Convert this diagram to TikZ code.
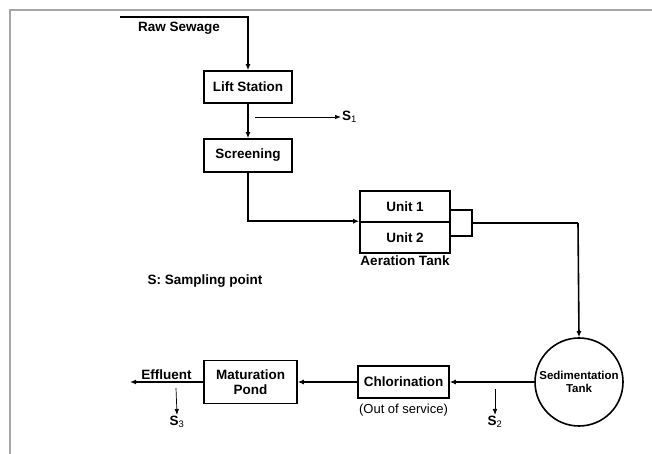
\documentclass[tikz,border=0pt]{standalone}
\usepackage{fontspec}
\setmainfont{Liberation Sans}
\usepackage{tikz}
\usetikzlibrary{positioning,arrows.meta}

\tikzset{
    unitbox/.style={draw, line width=1.6pt, inner sep=0pt, align=center,
        font=\fontsize{13.5}{15}\selectfont\bfseries},
    flow/.style={line width=1.6pt, -{Latex[length=6pt,width=5pt]}},
    probe/.style={line width=0.7pt, -{Latex[length=6pt,width=4.5pt]}},
    tag/.style={inner sep=1pt, font=\fontsize{13.5}{15}\selectfont\bfseries}
}

\begin{document}
\begin{tikzpicture}[x=1pt, y=1pt]
    \useasboundingbox (0,0) rectangle (652,454);

    % Page frame
    \draw[gray!70, line width=1.3pt] (10,0) -- (10,444) -- (652,444);

    % Treatment units
    \coordinate (raw) at (120,437);
    \node[unitbox, minimum width=88pt, minimum height=32pt] (lift) at (248,367) {Lift Station};
    \node[unitbox, minimum width=88pt, minimum height=33pt] (screen) at (248,298.5) {Screening};
    \node[unitbox, minimum width=90pt, minimum height=31pt] (unit1) at (405,247.5) {Unit 1};
    \node[unitbox, minimum width=90pt, minimum height=31pt] (unit2) at (405,216.5) {Unit 2};
    \node[unitbox, minimum width=22pt, minimum height=26pt] (weir) at (461,231) {};
    \node[draw, circle, line width=1.6pt, minimum size=88pt, inner sep=0pt, align=center,
        font=\fontsize{11.5}{13}\selectfont\bfseries] (sed) at (579,72) {Sedimentation\\Tank};
    \node[unitbox, minimum width=91pt, minimum height=32pt] (chlor) at (403.5,72) {Chlorination};
    \node[unitbox, minimum width=93pt, minimum height=43pt] (pond) at (250.5,72) {Maturation\\Pond};
    \coordinate (out) at (130,72);

    % Labels
    \node[tag] (rawlbl) at (179,426) {Raw Sewage};
    \node[tag, below=1pt of unit2] (aerlbl) {Aeration Tank};
    \node[below=2pt of chlor, font=\fontsize{13}{15}\selectfont] (oos) {(Out of service)};
    \node[tag] (legend) at (205,173) {S: Sampling point};

    % Main flow line
    \draw[flow] (raw) -- (248,437) -- (lift.north);
    \draw[flow] (lift) -- (screen);
    \draw[flow] (screen.south) |- (unit2.north west);
    \draw[line width=1.6pt] (weir.east) -- (578,231) coordinate (bend);
    \draw[flow] (bend) -- (sed.north);
    \draw[flow] (sed) -- (chlor);
    \draw[flow] (chlor) -- (pond);
    \draw[flow] (pond) -- (out) node[tag, midway, above=1pt] (efflbl) {Effluent};

    % Sampling points
    \coordinate (p1) at (255,337);
    \node[tag, anchor=west] (s1) at (341,337) {S\textsubscript{\mdseries 1}};
    \draw[probe] (p1) -- (s1.west);

    \coordinate (p2) at (495,65);
    \node[tag, anchor=north] (s2) at (495,39) {S\textsubscript{\mdseries 2}};
    \draw[probe] (p2) -- (s2.north);

    \coordinate (p3) at (176,66);
    \node[tag, anchor=north] (s3) at (177,39) {S\textsubscript{\mdseries 3}};
    \draw[probe] (p3) -- (s3.north);
\end{tikzpicture}
\end{document}
